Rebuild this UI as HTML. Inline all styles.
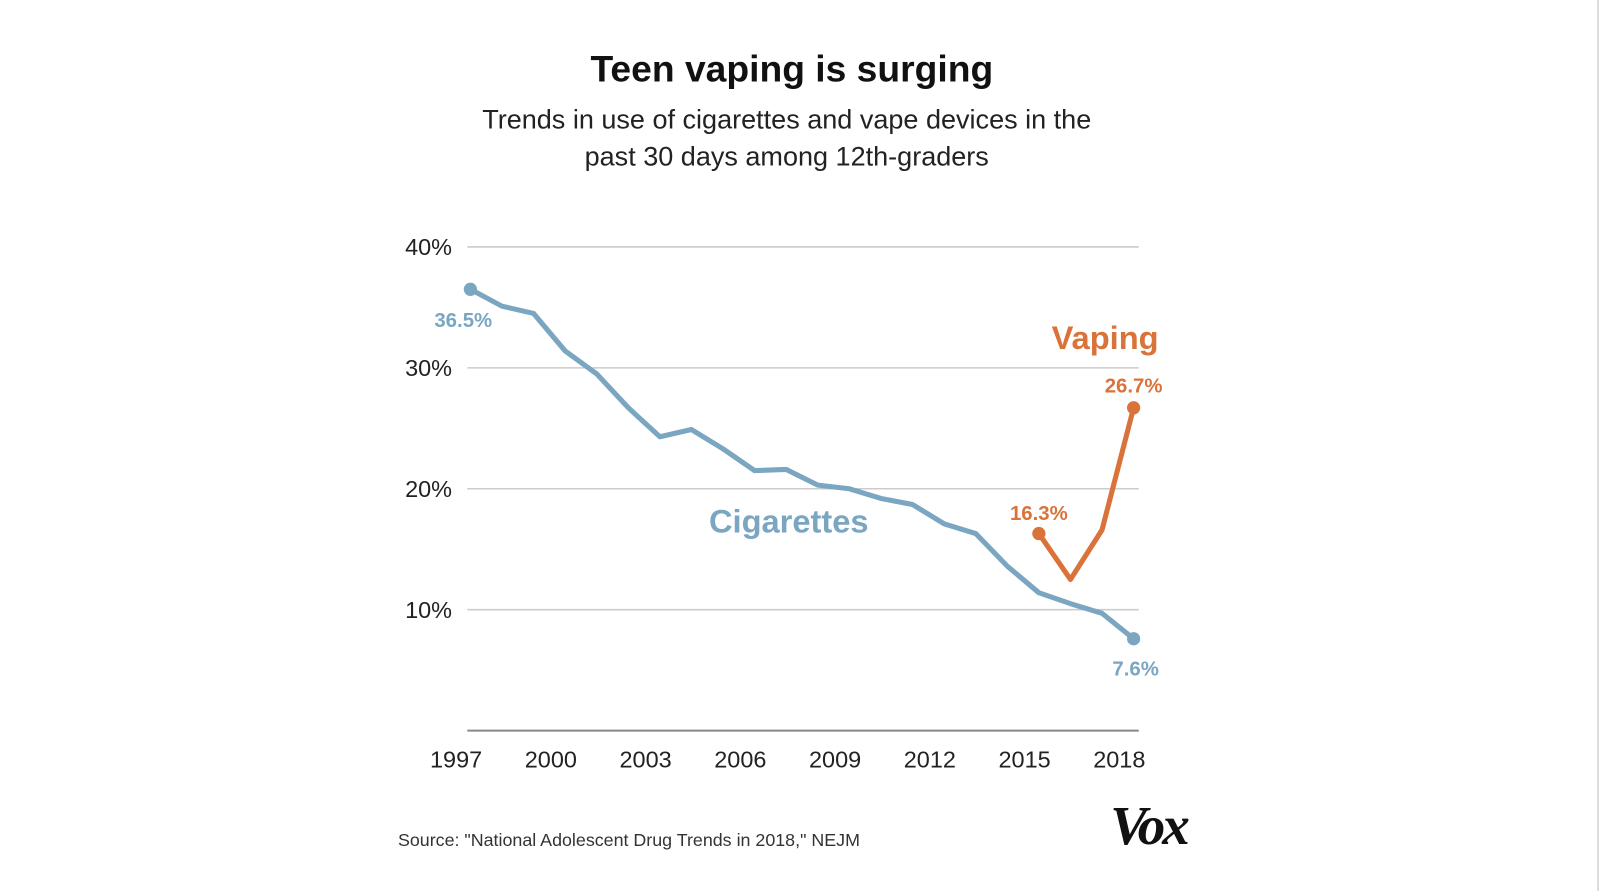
<!DOCTYPE html>
<html><head><meta charset="utf-8"><style>
body{margin:0;background:#fff;width:1600px;height:891px;overflow:hidden;font-family:"Liberation Sans",sans-serif;}
.edge{position:absolute;left:1597px;top:0;width:2px;height:891px;background:#ddd;}
</style></head><body>
<div class="edge"></div>
<svg width="1600" height="891" style="position:absolute;left:0;top:0">
<g transform="scale(1.0204)">
<text x="776" y="80" text-anchor="middle" font-size="36.5" font-weight="bold" fill="#111">Teen vaping is surging</text>
<text x="771" y="126" text-anchor="middle" font-size="26.5" fill="#222">Trends in use of cigarettes and vape devices in the</text>
<text x="771" y="162" text-anchor="middle" font-size="26.5" fill="#222">past 30 days among 12th-graders</text>
<g id="grid"></g><g id="marks"></g>
<text x="390" y="829" font-size="17.5" fill="#333">Source: "National Adolescent Drug Trends in 2018," NEJM</text>
<text x="1088" y="827" font-size="54" font-weight="bold" font-style="italic" font-family="Liberation Serif,serif" fill="#111" letter-spacing="-3">Vox</text>
</g>
</svg>
<script>
const cigYears=[1997,1998,1999,2000,2001,2002,2003,2004,2005,2006,2007,2008,2009,2010,2011,2012,2013,2014,2015,2016,2017,2018];
const cigValues=[36.5,35.1,34.5,31.4,29.5,26.7,24.3,24.9,23.3,21.5,21.6,20.3,20.0,19.2,18.7,17.1,16.3,13.6,11.4,10.5,9.7,7.6];
const vapeYears=[2015,2016,2017,2018];
const vapeValues=[16.3,12.5,16.6,26.7];
const yTicks=[10,20,30,40];
const xTicks=[1997,2000,2003,2006,2009,2012,2015,2018];
const NS="http://www.w3.org/2000/svg";
const x=yr=>461+(yr-1997)*30.95;
const y=v=>716-v*11.85;
const grid=document.getElementById('grid'),marks=document.getElementById('marks');
function mk(tag,attrs,parent,txt){const e=document.createElementNS(NS,tag);for(const k in attrs)e.setAttribute(k,attrs[k]);if(txt!==undefined)e.textContent=txt;parent.appendChild(e);return e;}
yTicks.forEach(t=>{
 const l=mk('line',{x1:458,x2:1116,y1:y(t),y2:y(t),stroke:'#ccc','stroke-width':1.5},grid);
 
 
 const tx=mk('text',{x:443,y:y(t)+8,'text-anchor':'end','font-size':23,fill:'#222'},grid,t+'%');
 
 
});
const ax=mk('line',{x1:458,x2:1116,y1:y(0),y2:y(0),stroke:'#888','stroke-width':2},grid);


xTicks.forEach(t=>{
 const tx=mk('text',{x:x(t)-14,y:752,'text-anchor':'middle','font-size':23,fill:'#222'},grid,String(t));
 
 
});
const cp=mk('polyline',{points:cigYears.map((d,i)=>x(d)+','+y(cigValues[i])).join(' '),fill:'none',stroke:'#7aa6c2','stroke-width':5,'stroke-linejoin':'round'},marks);


const vp=mk('polyline',{points:vapeYears.map((d,i)=>x(d)+','+y(vapeValues[i])).join(' '),fill:'none',stroke:'#d9733a','stroke-width':5,'stroke-linejoin':'round'},marks);


const last=cigValues.length-1,vl=vapeValues.length-1;
[[x(cigYears[0]),y(cigValues[0]),'#7aa6c2','cig-start-point'],[x(cigYears[last]),y(cigValues[last]),'#7aa6c2','cig-end-point'],[x(vapeYears[0]),y(vapeValues[0]),'#d9733a','vape-start-point'],[x(vapeYears[vl]),y(vapeValues[vl]),'#d9733a','vape-end-point']].forEach(p=>{
 const c=mk('circle',{cx:p[0],cy:p[1],r:6.5,fill:p[2]},marks);
 
 
});
const labs=[[x(cigYears[0])-7,y(cigValues[0])+37,cigValues[0]+'%','#7aa6c2',20,'cig-start-label'],[x(cigYears[last])+2,y(cigValues[last])+36,cigValues[last]+'%','#7aa6c2',20,'cig-end-label'],[x(vapeYears[0]),y(vapeValues[0])-13,vapeValues[0]+'%','#d9733a',20,'vape-start-label'],[x(vapeYears[vl]),y(vapeValues[vl])-15,vapeValues[vl]+'%','#d9733a',20,'vape-end-label'],[773,522,'Cigarettes','#7aa6c2',32,'cigarettes-series-label'],[1083,342,'Vaping','#d9733a',32,'vaping-series-label']];
labs.forEach(a=>{
 const t=mk('text',{x:a[0],y:a[1],'text-anchor':'middle','font-size':a[4],'font-weight':'bold',fill:a[3]},marks,a[2]);
 
 
});
</script>
</body></html>
